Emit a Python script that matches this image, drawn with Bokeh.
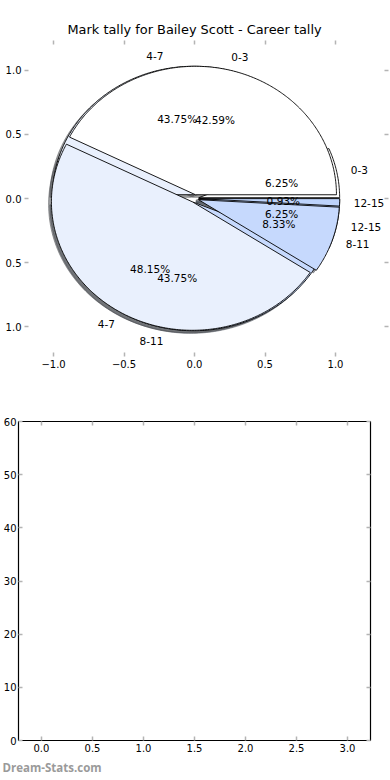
import numpy as np
from bokeh.plotting import figure
from bokeh.models import ColumnDataSource, LinearAxis, FixedTicker, Title, Range1d, LabelSet
from bokeh.core.properties import value
from bokeh.embed import file_html
from bokeh.resources import INLINE

# ---------------- data ----------------
title_text = "Mark tally for Bailey Scott - Career tally"
bands = ["0-3", "4-7", "8-11", "12-15"]
career_counts = [46, 52, 9, 1]      # 42.59%, 48.15%, 8.33%, 0.93%
season_counts = [1, 7, 7, 1]        # 6.25%, 43.75%, 43.75%, 6.25%
band_colors = ["#ffffff", "#e9f0fd", "#c6d9fd", "#bdd3fb"]

pie_ticks = [-1.0, -0.5, 0.0, 0.5, 1.0]
pie_x_tick_labels = ["\u22121.0", "\u22120.5", "0.0", "0.5", "1.0"]
pie_y_tick_labels = ["1.0", "0.5", "0.0", "0.5", "1.0"]   # minus signs cut off in the reference

bar_x_ticks = [0.0, 0.5, 1.0, 1.5, 2.0, 2.5, 3.0]
bar_x_tick_labels = ["0.0", "0.5", "1.0", "1.5", "2.0", "2.5", "3.0"]
bar_y_ticks = [0, 10, 20, 30, 40, 50, 60]
watermark = "Dream-Stats.com"

EXPLODE = 0.03
RADIUS = 1.0
SHADOW_OFF = -0.02
FONT = "DejaVu Sans"
TICK_GRAY = "#b4b4b4"


def hex_to_rgb(h):
    h = h.lstrip("#")
    return tuple(int(h[i:i + 2], 16) for i in (0, 2, 4))


def pie_geometry(counts):
    total = float(sum(counts))
    fr = np.array(counts, dtype=float) / total
    t2 = np.cumsum(fr) * 360.0
    t1 = t2 - fr * 360.0
    out = dict(xs=[], ys=[], sxs=[], sys=[], color=[], shadow=[],
               lx=[], ly=[], lalign=[], ltext=[], px=[], py=[], ptext=[])
    for i, (a, b) in enumerate(zip(t1, t2)):
        mid = np.deg2rad((a + b) / 2.0)
        cx, cy = EXPLODE * np.cos(mid), EXPLODE * np.sin(mid)
        n = max(int(abs(b - a) * 1.5) + 2, 4)
        th = np.deg2rad(np.linspace(a, b, n))
        xs = [cx] + list(cx + RADIUS * np.cos(th))
        ys = [cy] + list(cy + RADIUS * np.sin(th))
        out["xs"].append(xs)
        out["ys"].append(ys)
        out["sxs"].append([x + SHADOW_OFF for x in xs])
        out["sys"].append([y + SHADOW_OFF for y in ys])
        col = band_colors[i]
        out["color"].append(col)
        r, g, bb = hex_to_rgb(col)
        out["shadow"].append("#%02x%02x%02x" % (int(r * 0.3), int(g * 0.3), int(bb * 0.3)))
        lx = cx + 1.1 * RADIUS * np.cos(mid)
        ly = cy + 1.1 * RADIUS * np.sin(mid)
        out["lx"].append(lx)
        out["ly"].append(ly)
        out["lalign"].append("left" if lx > 0 else "right")
        out["ltext"].append(bands[i])
        out["px"].append(cx + 0.6 * RADIUS * np.cos(mid))
        out["py"].append(cy + 0.6 * RADIUS * np.sin(mid))
        out["ptext"].append("%.2f%%" % (fr[i] * 100.0))
    return out


def style_axis(ax, ticks, labels=None, show_labels=True):
    ax.ticker = FixedTicker(ticks=ticks)
    ax.axis_line_color = None
    ax.major_tick_line_color = TICK_GRAY
    ax.major_tick_line_width = 1.5
    ax.major_tick_in = 4
    ax.major_tick_out = 0
    ax.minor_tick_line_color = None
    ax.major_label_text_font = FONT
    ax.major_label_text_font_size = "10px"
    ax.major_label_text_color = "#000000"
    ax.major_label_standoff = 3
    if labels is not None:
        ax.major_label_overrides = {float(t): s for t, s in zip(ticks, labels)}
    if not show_labels:
        ax.major_label_overrides = {float(t): "" for t in ticks}
        ax.major_label_text_font_size = "1px"
        ax.major_label_standoff = 0
        ax.axis_label_standoff = 0


# ---------------- top: two overlaid pies ----------------
p1 = figure(width=390, height=370, x_range=Range1d(-1.206, 1.376), y_range=Range1d(-1.23, 1.23),
            output_backend="svg", toolbar_location=None,
            min_border_left=24, min_border_right=2, min_border_top=40, min_border_bottom=0)
p1.title.text = title_text
p1.title.align = "left"
p1.title.offset = 43
p1.title.text_font = FONT
p1.title.text_font_size = "12.9px"
p1.title.text_font_style = "normal"
p1.title.text_color = "#000000"
p1.title.standoff = 7
p1.outline_line_color = None
p1.grid.visible = False
p1.background_fill_color = "white"
p1.border_fill_color = "white"

style_axis(p1.xaxis[0], pie_ticks, pie_x_tick_labels)
style_axis(p1.yaxis[0], pie_ticks, pie_y_tick_labels)
ax_top = LinearAxis()
ax_right = LinearAxis()
style_axis(ax_top, pie_ticks, show_labels=False)
style_axis(ax_right, pie_ticks, show_labels=False)
p1.add_layout(ax_top, "above")
p1.add_layout(ax_right, "right")

season = pie_geometry(season_counts)
career = pie_geometry(career_counts)

# shadows (drawn beneath every wedge)
for g in (season, career):
    src = ColumnDataSource(dict(xs=g["sxs"], ys=g["sys"], c=g["shadow"]))
    p1.patches("xs", "ys", source=src, fill_color="c", fill_alpha=0.5,
               line_color="c", line_alpha=0.5, line_width=1)

# wedges: season pie underneath, career pie on top
for g in (season, career):
    src = ColumnDataSource(dict(xs=g["xs"], ys=g["ys"], c=g["color"]))
    p1.patches("xs", "ys", source=src, fill_color="c", line_color="#000000", line_width=0.9)

for g in (season, career):
    for al in ("left", "right"):
        idx = [i for i, a in enumerate(g["lalign"]) if a == al]
        if not idx:
            continue
        s = ColumnDataSource(dict(x=[g["lx"][i] for i in idx], y=[g["ly"][i] for i in idx],
                                  t=[g["ltext"][i] for i in idx]))
        p1.add_layout(LabelSet(x="x", y="y", text="t", source=s, text_align=al,
                               text_baseline="middle", text_font=value(FONT),
                               text_font_size=value("10.5px"), text_color="#000000"))
    psrc = ColumnDataSource(dict(x=g["px"], y=g["py"], t=g["ptext"]))
    p1.add_layout(LabelSet(x="x", y="y", text="t", source=psrc, text_align="center",
                           text_baseline="middle", text_font=value(FONT),
                           text_font_size=value("10.5px"), text_color="#000000"))

# ---------------- bottom: empty axes ----------------
p2 = figure(width=390, height=410, x_range=Range1d(-0.225, 3.225), y_range=Range1d(0, 60),
            output_backend="svg", toolbar_location=None,
            min_border_left=0, min_border_right=20, min_border_top=51, min_border_bottom=40)
p2.outline_line_color = "#000000"
p2.outline_line_width = 1.2
p2.grid.visible = False
p2.background_fill_color = "white"
p2.border_fill_color = "white"
style_axis(p2.xaxis[0], bar_x_ticks, bar_x_tick_labels)
style_axis(p2.yaxis[0], bar_y_ticks)
p2.yaxis[0].major_label_standoff = 2
ax2_top = LinearAxis()
ax2_right = LinearAxis()
style_axis(ax2_top, bar_x_ticks, show_labels=False)
style_axis(ax2_right, bar_y_ticks, show_labels=False)
p2.add_layout(ax2_top, "above")
p2.add_layout(ax2_right, "right")
p2.scatter(x=[], y=[])
p2.add_layout(Title(text=watermark, align="left", text_color="#9a9a9a", text_font="Open Sans",
                    text_font_size="11.5px", text_font_style="bold", offset=-16, standoff=6), "below")

# two independent roots, stacked, so their frames are not forced into alignment
open("out.html", "w").write(file_html([p1, p2], INLINE))
